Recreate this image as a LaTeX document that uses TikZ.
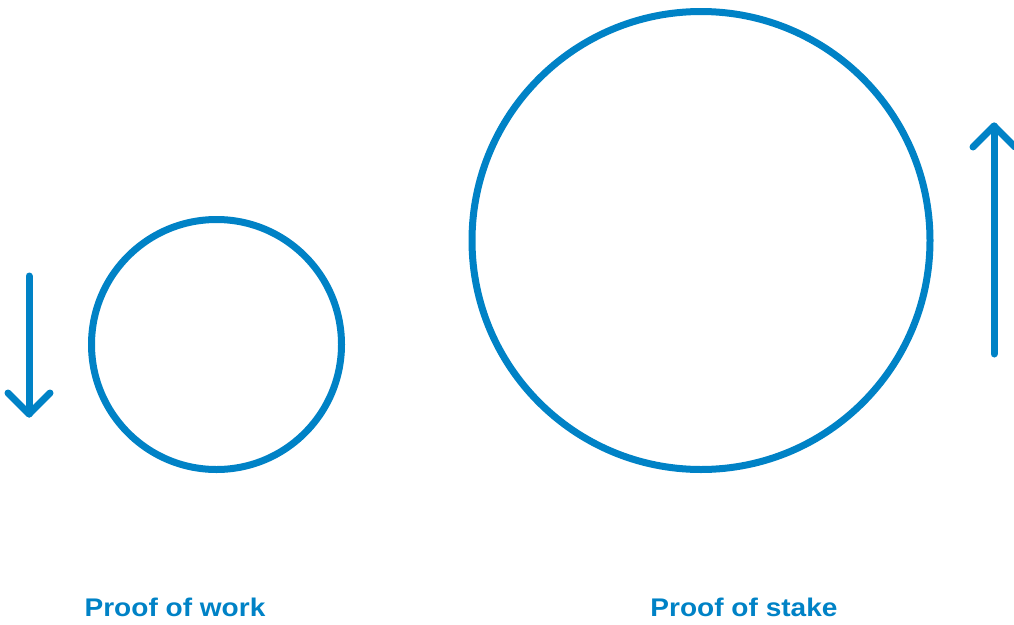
\documentclass[tikz,border=0pt]{standalone}
\usepackage{fontspec}
\setmainfont{Liberation Sans}
\definecolor{pblue}{RGB}{0,130,198}
\begin{document}
\begin{tikzpicture}[x=1pt,y=-1pt,
  ring/.style={draw=pblue,line width=7pt},
  arr/.style={draw=pblue,line width=7pt,line cap=round,line join=round},
  lbl/.style={text=pblue,font=\fontsize{25.5}{28}\selectfont\bfseries,anchor=base,inner sep=0pt,xscale=1.1}]
\useasboundingbox (0,0) rectangle (1014,624);
\clip (0,0) rectangle (1014,624);
\draw[ring] (216.5,344.5) circle[radius=125];
\draw[ring] (701,240.5) circle[radius=229];
% down arrow
\coordinate (dtop) at (29,276);
\coordinate (dtip) at (29,414);
\draw[arr] (dtop) -- (dtip);
\draw[arr] (8,393) -- (dtip) -- (50,393);
% up arrow
\coordinate (ubot) at (994,354);
\coordinate (utip) at (994,126);
\draw[arr] (ubot) -- (utip);
\draw[arr] (973,147) -- (utip) -- (1015,147);
\node[lbl] (pow) at (175,616) {Proof of work};
\node[lbl] (pos) at (744,616) {Proof of stake};
\end{tikzpicture}
\end{document}
